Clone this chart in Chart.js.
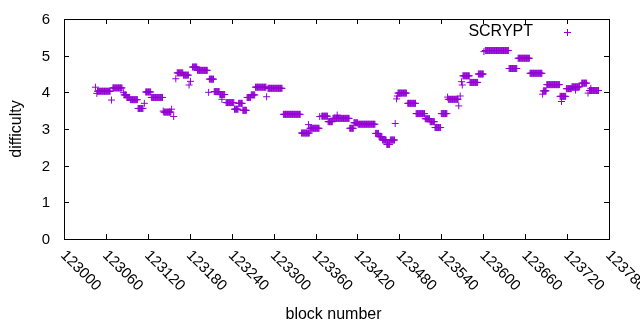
<!DOCTYPE html>
<html lang="en">
<head>
<meta charset="UTF-8">
<title>SCRYPT difficulty</title>
<script src="https://cdn.jsdelivr.net/npm/chart.js"></script>
<style>
  body { margin: 0; background: #fff; }
  #wrap { width: 640px; height: 330px; }
</style>
</head>
<body>
<div id="wrap"><canvas id="chart" width="640" height="330"></canvas></div>
<script>
// Difficulty held over runs of blocks
const runFirst = [123045, 123047, 123048, 123068, 123070, 123085, 123086, 123090, 123095, 123106,
                  123115, 123117, 123125, 123142, 123143, 123154, 123157, 123160, 123162, 123171,
                  123179, 123181, 123184, 123191, 123207, 123208, 123215, 123223, 123226, 123232,
                  123244, 123250, 123256, 123262, 123268, 123274, 123290, 123292, 123314, 123340,
                  123350, 123352, 123366, 123369, 123378, 123385, 123391, 123409, 123415, 123421,
                  123446, 123451, 123456, 123462, 123467, 123474, 123476, 123477, 123478, 123492,
                  123504, 123517, 123524, 123531, 123540, 123549, 123550, 123565, 123567, 123569,
                  123570, 123571, 123581, 123593, 123601, 123603, 123637, 123650, 123667, 123685,
                  123686, 123691, 123710, 123712, 123719, 123727, 123732, 123741, 123750, 123752,
                  123754];
const runLast  = [123045, 123047, 123066, 123068, 123083, 123085, 123089, 123094, 123105, 123113,
                  123115, 123124, 123141, 123142, 123153, 123154, 123157, 123160, 123170, 123178,
                  123179, 123181, 123190, 123205, 123207, 123214, 123222, 123230, 123226, 123243,
                  123249, 123255, 123261, 123267, 123273, 123289, 123290, 123312, 123338, 123351,
                  123350, 123365, 123366, 123377, 123384, 123408, 123391, 123414, 123420, 123445,
                  123450, 123455, 123461, 123466, 123473, 123474, 123476, 123477, 123490, 123503,
                  123516, 123523, 123530, 123539, 123548, 123549, 123564, 123565, 123567, 123569,
                  123570, 123580, 123592, 123600, 123601, 123636, 123648, 123666, 123684, 123685,
                  123690, 123709, 123718, 123712, 123726, 123738, 123732, 123748, 123750, 123765,
                  123754];
const runDifficulty = [4.14, 3.97, 4.03, 3.79, 4.12, 3.99, 3.93, 3.86, 3.80, 3.56,
                       3.70, 4.01, 3.86, 3.49, 3.46, 3.54, 3.34, 4.37, 4.53, 4.47,
                       4.20, 4.30, 4.69, 4.60, 4.00, 4.36, 4.02, 3.94, 3.81, 3.72,
                       3.54, 3.70, 3.51, 3.86, 3.93, 4.14, 3.88, 4.11, 3.40, 2.89,
                       3.12, 3.02, 3.34, 3.35, 3.20, 3.29, 3.38, 3.02, 3.17, 3.13,
                       2.88, 2.79, 2.70, 2.58, 2.70, 3.15, 3.82, 3.90, 3.98, 3.70,
                       3.42, 3.28, 3.20, 3.04, 3.42, 3.87, 3.81, 3.63, 3.90, 4.29,
                       4.20, 4.45, 4.27, 4.50, 5.11, 5.14, 4.65, 4.93, 4.52, 3.95,
                       4.04, 4.21, 3.89, 3.75, 4.10, 4.15, 4.06, 4.25, 3.98, 4.05,
                       4.11];

const xTicks = [123000, 123060, 123120, 123180, 123240, 123300, 123360, 123420,
                123480, 123540, 123600, 123660, 123720, 123780];
const yTicks = [0, 1, 2, 3, 4, 5, 6];
const seriesName = 'SCRYPT';
const purple = '#9400d3';

const points = [];
for (let i = 0; i < runFirst.length; i++) {
    for (let b = runFirst[i]; b <= runLast[i]; b++) {
        points.push({ x: b, y: runDifficulty[i] });
    }
}

const FONT = '15px "Liberation Sans", Arial, sans-serif';
const TITLE_FONT = '16px "Liberation Sans", Arial, sans-serif';

const gnuplotFrame = {
    id: 'gnuplotFrame',
    afterDraw(chart) {
        const ctx = chart.ctx;
        const a = chart.chartArea;
        const xs = chart.scales.x, ys = chart.scales.y;
        ctx.save();
        ctx.strokeStyle = '#000';
        ctx.lineWidth = 1;
        ctx.strokeRect(Math.round(a.left) + 0.5, Math.round(a.top) + 0.5,
                       Math.round(a.right - a.left), Math.round(a.bottom - a.top));
        // inward ticks on all four sides
        ctx.beginPath();
        const tl = 5;
        xTicks.forEach(v => {
            const px = Math.round(xs.getPixelForValue(v)) + 0.5;
            ctx.moveTo(px, a.bottom); ctx.lineTo(px, a.bottom - tl);
            ctx.moveTo(px, a.top); ctx.lineTo(px, a.top + tl);
        });
        yTicks.forEach(v => {
            const py = Math.round(ys.getPixelForValue(v)) + 0.5;
            ctx.moveTo(a.left, py); ctx.lineTo(a.left + tl, py);
            ctx.moveTo(a.right, py); ctx.lineTo(a.right - tl, py);
        });
        ctx.stroke();

        ctx.fillStyle = '#000';
        ctx.font = FONT;
        ctx.textAlign = 'right';
        ctx.textBaseline = 'middle';
        yTicks.forEach(v => ctx.fillText(String(v), a.left - 14, ys.getPixelForValue(v) + 1));

        ctx.textAlign = 'left';
        xTicks.forEach(v => {
            ctx.save();
            ctx.translate(xs.getPixelForValue(v) - 1, a.bottom + 14);
            ctx.rotate(Math.PI / 4);
            ctx.fillText(String(v), 0, 0);
            ctx.restore();
        });

        ctx.font = TITLE_FONT;
        ctx.textAlign = 'center';
        ctx.fillText('block number', (a.left + a.right) / 2 - 3, 315);
        ctx.save();
        ctx.translate(17, (a.top + a.bottom) / 2);
        ctx.rotate(-Math.PI / 2);
        ctx.fillText('difficulty', 0, 0);
        ctx.restore();

        // key
        ctx.textAlign = 'right';
        ctx.fillText(seriesName, 533, 32);
        ctx.strokeStyle = purple;
        ctx.beginPath();
        ctx.moveTo(564, 32.5); ctx.lineTo(571, 32.5);
        ctx.moveTo(567.5, 29); ctx.lineTo(567.5, 36);
        ctx.stroke();
        ctx.restore();
    }
};

new Chart(document.getElementById('chart'), {
    type: 'scatter',
    data: {
        datasets: [{
            label: seriesName,
            data: points,
            pointStyle: 'cross',
            pointRadius: 3.5,
            pointBorderWidth: 1,
            borderColor: purple,
            backgroundColor: purple,
            showLine: false
        }]
    },
    options: {
        responsive: false,
        animation: false,
        events: [],
        layout: { padding: { left: 64, right: 31, top: 19, bottom: 91 } },
        scales: {
            x: { type: 'linear', display: false, min: 123000, max: 123780 },
            y: { type: 'linear', display: false, min: 0, max: 6 }
        },
        plugins: {
            legend: { display: false },
            tooltip: { enabled: false }
        }
    },
    plugins: [gnuplotFrame]
});
</script>
</body>
</html>
